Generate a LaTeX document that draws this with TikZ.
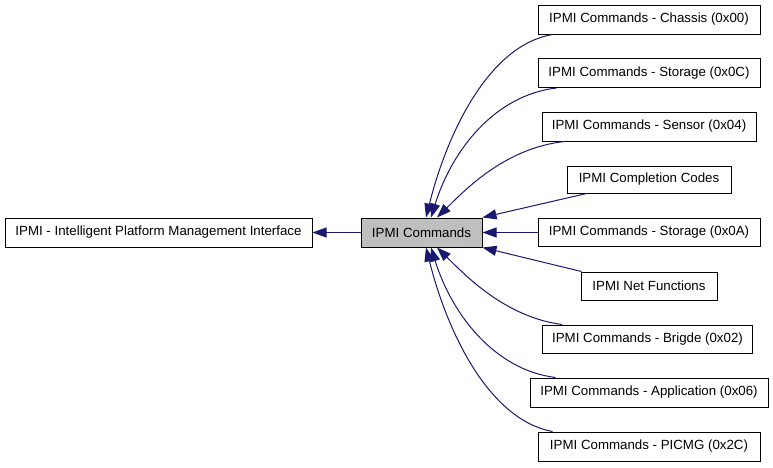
\documentclass[tikz,border=0pt]{standalone}
\usepackage{fontspec}
\setmainfont{Liberation Sans}
\usetikzlibrary{arrows.meta}
\definecolor{edgeblue}{HTML}{191970}
\definecolor{groupgray}{HTML}{BFBFBF}
\tikzset{
  box/.style={draw, line width=1pt, inner sep=0pt, minimum height=29pt, font=\fontsize{13.3}{16}\selectfont},
  dep/.style={draw=edgeblue, line width=1pt, -{Triangle[length=14pt,width=10pt]}}
}
\begin{document}
\begin{tikzpicture}[x=1pt,y=-1pt]

\useasboundingbox (0,0) rectangle (773,467);

\node[box, minimum width=307pt] (ipmi) at (158.5,232.5) {IPMI - Intelligent Platform Management Interface};
\node[box, minimum width=121pt, fill=groupgray] (cmd) at (421.5,232.5) {IPMI Commands};

\node[box, minimum width=222pt] (chassis) at (649,19.5) {IPMI Commands - Chassis (0x00)};
\node[box, minimum width=222pt] (stor0C) at (649,73) {IPMI Commands - Storage (0x0C)};
\node[box, minimum width=214pt] (sensor) at (649,126.5) {IPMI Commands - Sensor (0x04)};
\node[box, minimum width=164pt, minimum height=27pt] (compl) at (649,179.5) {IPMI Completion Codes};
\node[box, minimum width=222pt, minimum height=28pt] (stor0A) at (649,232.5) {IPMI Commands - Storage (0x0A)};
\node[box, minimum width=136pt, minimum height=28pt] (netfn) at (649,286) {IPMI Net Functions};
\node[box, minimum width=210pt, minimum height=28pt] (bridge) at (647.5,339) {IPMI Commands - Brigde (0x02)};
\node[box, minimum width=238pt] (app) at (649,392.5) {IPMI Commands - Application (0x06)};
\node[box, minimum width=222pt] (picmg) at (649,446.5) {IPMI Commands - PICMG (0x2C)};

\draw[dep] (cmd.west) -- (ipmi.east);

\draw[dep] ([xshift=15]chassis.south west) .. controls (490,45) and (448,130) .. ([xshift=4.5]cmd.north);
\draw[dep] ([xshift=19]stor0C.south west) .. controls (495,95) and (452,150) .. ([xshift=9.5]cmd.north);
\draw[dep] ([xshift=23]sensor.south west) .. controls (505,148) and (465,190) .. ([xshift=15.5]cmd.north);
\draw[dep] ([xshift=20]compl.south west) -- (cmd.north east);
\draw[dep] (stor0A.west) -- (cmd.east);
\draw[dep] ([xshift=1]netfn.north west) -- (cmd.south east);
\draw[dep] ([xshift=20]bridge.north west) .. controls (505,317) and (465,275) .. ([xshift=15.5]cmd.south);
\draw[dep] ([xshift=26]app.north west) .. controls (495,370) and (452,315) .. ([xshift=9.5]cmd.south);
\draw[dep] ([xshift=15]picmg.north west) .. controls (490,420) and (448,335) .. ([xshift=4.5]cmd.south);

\end{tikzpicture}
\end{document}
